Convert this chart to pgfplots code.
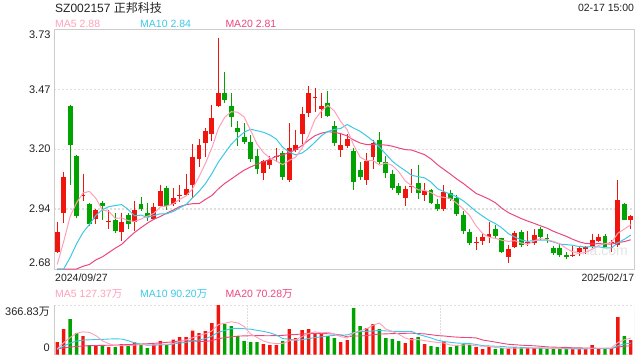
\documentclass[border=0pt]{standalone}
\usepackage{fontspec}
\setmainfont{Liberation Sans}
\newfontfamily\cjk{Noto Sans CJK SC}
\usepackage{pgfplots}
\usepackage{pgfplotstable}
\pgfplotsset{compat=1.18}
\definecolor{cup}{RGB}{240,22,14}
\definecolor{cdn}{RGB}{0,163,0}
\definecolor{ma5c}{RGB}{255,160,185}
\definecolor{ma10c}{RGB}{60,200,230}
\definecolor{ma20c}{RGB}{236,70,125}
\definecolor{txt}{RGB}{34,34,34}
\definecolor{framec}{RGB}{204,204,204}
\definecolor{gridc}{RGB}{222,222,222}

\pgfplotstableread{
x o h l c v
0 2.756 2.885 2.752 2.844 93.6
1 2.927 3.107 2.883 3.084 189.6
2 3.392 3.400 3.048 3.222 263.4
3 3.176 3.178 2.905 2.914 160.0
4 2.998 3.097 2.976 3.002 137.9
5 2.966 2.968 2.870 2.876 71.4
6 2.897 2.942 2.875 2.938 71.4
7 2.967 2.976 2.895 2.958 71.4
8 2.887 2.939 2.854 2.891 56.6
9 2.894 2.926 2.838 2.847 56.6
10 2.844 2.926 2.804 2.885 78.8
11 2.917 2.926 2.856 2.879 71.4
12 2.888 2.976 2.846 2.938 91.0
13 2.966 2.995 2.932 2.944 76.3
14 2.926 2.967 2.891 2.907 49.2
15 2.898 2.967 2.896 2.952 76.3
16 2.958 3.048 2.956 3.021 100.9
17 3.034 3.045 2.939 2.958 76.3
18 2.966 3.034 2.958 2.991 110.8
19 2.999 3.048 2.974 3.003 130.5
20 3.005 3.097 3.003 3.030 130.5
21 3.046 3.228 2.993 3.172 177.3
22 3.160 3.248 3.129 3.225 160.0
23 3.230 3.298 3.169 3.286 174.8
24 3.270 3.400 3.239 3.343 233.9
25 3.393 3.693 3.391 3.449 366.83
26 3.449 3.541 3.405 3.420 226.5
27 3.392 3.450 3.301 3.345 211.7
28 3.299 3.329 3.219 3.279 137.9
29 3.260 3.318 3.229 3.238 100.9
30 3.238 3.267 3.149 3.160 93.6
31 3.176 3.207 3.097 3.118 93.6
32 3.099 3.159 3.068 3.154 78.8
33 3.137 3.176 3.118 3.159 71.4
34 3.170 3.208 3.147 3.174 71.4
35 3.190 3.198 3.068 3.081 100.9
36 3.068 3.318 3.061 3.212 189.6
37 3.200 3.291 3.194 3.225 123.1
38 3.270 3.390 3.228 3.357 182.2
39 3.362 3.481 3.345 3.449 189.6
40 3.430 3.471 3.368 3.434 160.0
41 3.380 3.452 3.340 3.396 152.6
42 3.409 3.461 3.345 3.349 137.9
43 3.308 3.327 3.220 3.232 123.1
44 3.201 3.272 3.171 3.223 93.6
45 3.219 3.272 3.208 3.251 108.3
46 3.198 3.208 3.027 3.059 344.7
47 3.115 3.147 3.068 3.085 211.7
48 3.068 3.188 3.048 3.154 197.0
49 3.169 3.244 3.118 3.232 226.5
50 3.247 3.279 3.141 3.147 189.6
51 3.147 3.176 3.077 3.100 123.1
52 3.097 3.115 3.027 3.037 115.7
53 3.045 3.056 3.005 3.015 100.9
54 2.989 3.045 2.957 3.031 86.2
55 3.038 3.118 3.013 3.042 123.1
56 3.056 3.137 2.986 3.013 130.5
57 3.006 3.056 2.977 3.023 78.8
58 3.027 3.029 2.964 2.969 64.0
59 2.966 2.988 2.936 2.945 56.6
60 2.945 3.048 2.936 3.018 100.9
61 3.011 3.027 2.977 2.988 56.6
62 2.989 3.004 2.914 2.919 64.0
63 2.917 2.935 2.835 2.847 78.8
64 2.843 2.854 2.785 2.796 71.4
65 2.795 2.822 2.763 2.799 56.6
66 2.804 2.832 2.785 2.822 41.9
67 2.819 2.886 2.796 2.832 56.6
68 2.856 2.873 2.815 2.825 41.9
69 2.815 2.817 2.752 2.756 49.2
70 2.734 2.785 2.705 2.768 41.9
71 2.775 2.847 2.771 2.838 56.6
72 2.843 2.851 2.775 2.784 49.2
73 2.794 2.847 2.781 2.798 49.2
74 2.796 2.854 2.785 2.829 49.2
75 2.856 2.863 2.807 2.818 49.2
76 2.815 2.834 2.793 2.811 41.9
77 2.774 2.781 2.741 2.749 41.9
78 2.771 2.793 2.734 2.742 41.9
79 2.742 2.753 2.724 2.731 41.9
80 2.739 2.781 2.734 2.743 41.9
81 2.756 2.781 2.737 2.774 41.9
82 2.768 2.781 2.745 2.775 41.9
83 2.778 2.834 2.771 2.807 71.4
84 2.804 2.834 2.800 2.819 41.9
85 2.825 2.832 2.775 2.778 41.9
86 2.792 2.806 2.756 2.800 49.2
87 2.785 3.068 2.778 2.983 278.2
88 2.966 2.968 2.893 2.895 137.9
89 2.895 2.917 2.854 2.913 108.3
}\kdata

\pgfplotstableread{
x m5 m10 m20 v5 v10 v20
0 2.700 2.680 2.680 44 39 44
1 2.800 2.680 2.680 89 64 50
2 2.910 2.730 2.680 126 86 56
3 2.970 2.790 2.680 158 101 61
4 3.013 2.840 2.692 168.9 108 64
5 3.020 2.875 2.700 164.5 110 66
6 2.990 2.915 2.720 140.8 112 68
7 2.938 2.940 2.733 102.4 113 69
8 2.933 2.953 2.752 81.7 115.7 70
9 2.902 2.958 2.771 65.5 117.2 71
10 2.904 2.962 2.788 67.0 115.7 73
11 2.892 2.941 2.815 67.0 103.9 75
12 2.888 2.913 2.840 70.9 86.7 77
13 2.899 2.916 2.861 74.8 78.3 79
14 2.911 2.906 2.881 73.3 69.4 81
15 2.924 2.914 2.898 72.8 69.9 84
16 2.952 2.922 2.910 78.7 72.9 87
17 2.956 2.922 2.925 75.8 73.3 91
18 2.966 2.932 2.938 82.7 78.8 95
19 2.985 2.948 2.953 99.0 86.2 101.7
20 3.000 2.962 2.962 109.8 91.3 103.5
21 3.031 2.992 2.966 125.1 101.9 102.9
22 3.084 3.020 2.966 141.8 108.8 97.7
23 3.143 3.054 2.985 154.6 118.7 98.5
24 3.211 3.098 3.002 175.3 137.1 103.3
25 3.295 3.148 3.031 222.6 166.2 118.0
26 3.345 3.188 3.055 232.4 178.7 125.8
27 3.369 3.226 3.074 242.7 192.3 132.8
28 3.367 3.255 3.094 235.4 195.0 136.9
29 3.346 3.279 3.113 208.8 192.0 139.1
30 3.288 3.292 3.127 154.1 188.3 139.8
31 3.228 3.286 3.139 127.5 180.0 140.9
32 3.190 3.279 3.150 101.0 171.9 140.3
33 3.166 3.267 3.160 87.7 161.5 140.1
34 3.153 3.249 3.174 81.8 145.3 141.2
35 3.137 3.213 3.180 83.2 118.7 142.4
36 3.156 3.192 3.190 102.4 115.0 146.9
37 3.170 3.180 3.203 111.3 106.1 149.2
38 3.209 3.188 3.221 133.4 110.6 152.8
39 3.265 3.209 3.244 157.1 119.4 155.7
40 3.335 3.236 3.264 168.9 126.1 157.2
41 3.372 3.264 3.275 161.5 132.0 156.0
42 3.397 3.283 3.281 164.5 137.9 154.9
43 3.372 3.291 3.279 152.6 143.0 152.3
44 3.326 3.296 3.273 133.4 145.3 145.3
45 3.290 3.313 3.263 123.1 146.0 132.3
46 3.223 3.297 3.245 161.5 161.5 138.2
47 3.170 3.283 3.232 176.3 170.4 138.2
48 3.154 3.263 3.225 191.1 171.9 141.2
49 3.156 3.241 3.225 217.6 175.5 147.5
50 3.135 3.213 3.224 233.9 178.5 152.3
51 3.144 3.183 3.223 189.6 175.6 153.8
52 3.134 3.152 3.218 170.4 173.3 155.6
53 3.106 3.130 3.210 151.2 171.1 157.1
54 3.066 3.111 3.203 123.1 170.4 157.8
55 3.045 3.090 3.201 109.8 171.9 158.9
56 3.027 3.085 3.191 111.3 150.4 156.0
57 3.024 3.079 3.181 103.9 137.1 153.8
58 3.015 3.061 3.162 96.5 123.8 147.8
59 2.998 3.032 3.137 90.6 106.9 141.2
60 2.994 3.019 3.116 86.2 98.0 138.2
61 2.989 3.008 3.096 71.4 91.3 133.4
62 2.968 2.996 3.074 68.4 86.2 129.7
63 2.943 2.979 3.055 71.4 84.0 127.5
64 2.914 2.956 3.033 74.3 82.5 126.4
65 2.869 2.932 3.011 65.5 75.8 123.8
66 2.836 2.912 2.999 62.5 67.0 108.7
67 2.819 2.893 2.986 61.1 64.7 100.9
68 2.814 2.879 2.970 53.7 62.5 93.2
69 2.806 2.860 2.946 49.2 61.8 84.3
70 2.801 2.835 2.927 46.3 55.9 76.9
71 2.804 2.820 2.914 49.2 55.9 73.6
72 2.794 2.807 2.901 47.8 54.4 70.3
73 2.788 2.801 2.890 49.2 51.5 67.7
74 2.803 2.805 2.880 49.2 49.2 65.9
75 2.813 2.807 2.869 50.7 48.5 62.2
76 2.808 2.806 2.859 47.7 48.5 57.7
77 2.801 2.798 2.845 46.3 47.0 55.9
78 2.790 2.789 2.834 44.8 47.0 54.8
79 2.770 2.787 2.823 43.4 46.3 54.0
80 2.755 2.784 2.810 41.9 46.3 51.1
81 2.748 2.778 2.799 41.9 44.8 50.4
82 2.753 2.777 2.792 41.9 44.1 49.3
83 2.766 2.778 2.790 47.8 46.3 48.9
84 2.783 2.777 2.791 47.8 45.6 47.4
85 2.791 2.773 2.790 47.8 44.9 46.7
86 2.796 2.772 2.789 49.3 45.6 47.0
87 2.837 2.795 2.796 90.6 66.3 56.6
88 2.855 2.810 2.800 109.8 78.8 62.9
89 2.874 2.829 2.808 123.1 85.5 65.9
}\madata

\pgfplotsset{
  candle/.style 2 args={only marks, mark=*, mark size=0pt,
    mark options={draw=none, fill=none},
    error bars/.cd, y dir=minus, y explicit, error mark=none,
    error bar style={#1, line width=#2}},
}

\begin{document}
\begin{tikzpicture}[x=1pt,y=1pt]
\useasboundingbox (0,0) rectangle (640,360);

% ---------- price panel ----------
\begin{axis}[
  at={(54pt,91pt)}, anchor=south west,
  scale only axis, width=580pt, height=239.7pt,
  xmin=-0.5, xmax=89.5, ymin=2.68, ymax=3.73,
  xtick=\empty,
  ytick={2.9425,3.205,3.4675},
  yticklabels={2.94,3.20,3.47},
  major tick length=0pt,
  yticklabel style={font=\fontsize{11}{13}\selectfont, text=txt, inner sep=0pt, xshift=-3.3pt},
  ymajorgrids,
  grid style={gridc, line width=1.3pt, dash pattern=on 2pt off 2pt},
  axis line style={framec, line width=0.9pt},
  /pgf/number format/assume math mode=true,
]
\node[text=gray!22, font=\fontsize{14}{14}\selectfont] at (axis cs:84.2,2.763) {sina.com};
% wicks
\addplot[restrict expr to domain={\thisrow{c}-\thisrow{o}}{0:10}, candle={cup}{1pt}]
  table[x=x, y=h, y error minus expr={\thisrow{h}-\thisrow{l}}] {\kdata};
\addplot[restrict expr to domain={\thisrow{o}-\thisrow{c}}{0.0000001:10}, candle={cdn}{1pt}]
  table[x=x, y=h, y error minus expr={\thisrow{h}-\thisrow{l}}] {\kdata};
% bodies
\addplot[restrict expr to domain={\thisrow{c}-\thisrow{o}}{0:10}, candle={cup}{4.8pt}]
  table[x=x, y expr={max(\thisrow{o},\thisrow{c})}, y error minus expr={max(abs(\thisrow{c}-\thisrow{o}),0.004)}] {\kdata};
\addplot[restrict expr to domain={\thisrow{o}-\thisrow{c}}{0.0000001:10}, candle={cdn}{4.8pt}]
  table[x=x, y expr={max(\thisrow{o},\thisrow{c})}, y error minus expr={max(abs(\thisrow{c}-\thisrow{o}),0.004)}] {\kdata};
% moving averages
\addplot[ma20c, line width=1pt, no marks] table[x=x, y=m20] {\madata};
\addplot[ma10c, line width=1pt, no marks] table[x=x, y=m10] {\madata};
\addplot[ma5c, line width=1pt, no marks] table[x=x, y=m5] {\madata};
\end{axis}

% ---------- volume panel ----------
\begin{axis}[
  at={(54pt,5.3pt)}, anchor=south west,
  scale only axis, width=580pt, height=49.7pt,
  xmin=-0.5, xmax=89.5, ymin=0, ymax=366.83,
  xtick=\empty, ytick=\empty,
  axis line style={draw=none},
]
\draw[gridc, line width=1.3pt, dash pattern=on 2pt off 2pt] (rel axis cs:0,1) -- (rel axis cs:1,1);
\draw[gridc, line width=1.3pt, dash pattern=on 2pt off 2pt] (rel axis cs:0,0) -- (rel axis cs:1,0);
\draw[gridc, line width=0.9pt, dash pattern=on 1.5pt off 1.5pt] (axis cs:29.5,0) -- (axis cs:29.5,366.83);
\draw[gridc, line width=0.9pt, dash pattern=on 1.5pt off 1.5pt] (axis cs:59.5,0) -- (axis cs:59.5,366.83);
\draw[framec, line width=0.9pt] (rel axis cs:0,0) -- (rel axis cs:0,1);
\draw[framec, line width=0.9pt] (rel axis cs:1,0) -- (rel axis cs:1,1);
\addplot[ybar, bar width=3.4pt, bar shift=0pt, fill=cup, draw=none,
  restrict expr to domain={\thisrow{c}-\thisrow{o}}{0:10}]
  table[x=x, y=v] {\kdata};
\addplot[ybar, bar width=3.4pt, bar shift=0pt, fill=cdn, draw=none,
  restrict expr to domain={\thisrow{o}-\thisrow{c}}{0.0000001:10}]
  table[x=x, y=v] {\kdata};
\addplot[ma20c, line width=0.9pt, no marks] table[x=x, y=v20] {\madata};
\addplot[ma10c, line width=0.9pt, no marks] table[x=x, y=v10] {\madata};
\addplot[ma5c, line width=0.9pt, no marks] table[x=x, y=v5] {\madata};
\end{axis}

% ---------- texts ----------
\node[anchor=west, inner sep=0pt, font=\fontsize{12}{14}\selectfont, text=txt] at (55,352.5) {SZ002157 {\cjk 正邦科技}};
\node[anchor=east, inner sep=0pt, font=\fontsize{10.5}{12}\selectfont, text=txt] at (634.3,352.5) {02-17 15:00};
\node[anchor=west, inner sep=0pt, font=\fontsize{10.5}{12}\selectfont, text=ma5c] at (55,336) {MA5 2.88};
\node[anchor=west, inner sep=0pt, font=\fontsize{10.5}{12}\selectfont, text=ma10c] at (140,336) {MA10 2.84};
\node[anchor=west, inner sep=0pt, font=\fontsize{10.5}{12}\selectfont, text=ma20c] at (225.3,336) {MA20 2.81};
\node[anchor=east, inner sep=0pt, font=\fontsize{11}{13}\selectfont, text=txt] at (50.7,325.7) {3.73};
\node[anchor=east, inner sep=0pt, font=\fontsize{11}{13}\selectfont, text=txt] at (50.7,97) {2.68};
\node[anchor=west, inner sep=0pt, font=\fontsize{10.5}{12}\selectfont, text=txt] at (55,82.7) {2024/09/27};
\node[anchor=east, inner sep=0pt, font=\fontsize{10.5}{12}\selectfont, text=txt] at (634.3,82.7) {2025/02/17};
\node[anchor=west, inner sep=0pt, font=\fontsize{10.5}{12}\selectfont, text=ma5c] at (55,65.7) {MA5 127.37{\cjk 万}};
\node[anchor=west, inner sep=0pt, font=\fontsize{10.5}{12}\selectfont, text=ma10c] at (140,65.7) {MA10 90.20{\cjk 万}};
\node[anchor=west, inner sep=0pt, font=\fontsize{10.5}{12}\selectfont, text=ma20c] at (225.3,65.7) {MA20 70.28{\cjk 万}};
\node[anchor=east, inner sep=0pt, font=\fontsize{11}{13}\selectfont, text=txt] at (50,48.3) {366.83{\cjk 万}};
\node[anchor=east, inner sep=0pt, font=\fontsize{11}{13}\selectfont, text=txt] at (50,12) {0};
\end{tikzpicture}
\end{document}
